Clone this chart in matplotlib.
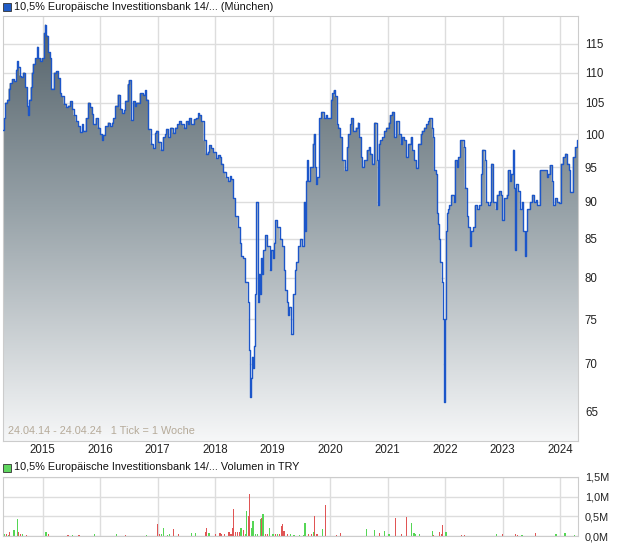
import numpy as np
import matplotlib
matplotlib.use('Agg')
import matplotlib.pyplot as plt
import matplotlib.dates as mdates
from matplotlib.colors import LinearSegmentedColormap
from matplotlib.patches import Rectangle
from matplotlib.ticker import NullLocator

plt.rcParams['font.family'] = ['Liberation Sans', 'DejaVu Sans']

# --- Daten ---
title_price = '10,5% Europäische Investitionsbank 14/... (München)'
title_volume = '10,5% Europäische Investitionsbank 14/... Volumen in TRY'
range_note = '24.04.14 - 24.04.24   1 Tick = 1 Woche'

start = np.datetime64('2014-04-24')
end = np.datetime64('2024-04-24')

# Wochen seit Start und Kurs
weeks = [0, 1, 2, 4, 5, 6, 8, 10, 12, 13,
         14, 15, 16, 18, 20, 22, 23, 24, 25, 26,
         27, 29, 31, 32, 34, 35, 37, 38, 39, 41,
         43, 44, 46, 48, 50, 52, 53, 55, 57, 59,
         61, 63, 64, 66, 68, 70, 72, 73, 75, 77,
         79, 81, 82, 84, 86, 88, 90, 91, 93, 95,
         97, 99, 100, 102, 104, 106, 108, 110, 111, 113,
         114, 116, 118, 120, 121, 124, 127, 129, 130, 132,
         134, 136, 138, 139, 141, 143, 145, 147, 148, 150,
         152, 154, 156, 158, 160, 162, 164, 166, 168, 169,
         171, 173, 175, 177, 178, 180, 182, 184, 186, 187,
         189, 191, 193, 195, 197, 198, 200, 202, 204, 206,
         207, 209, 211, 213, 215, 216, 218, 220, 222, 223,
         224, 225, 226, 227, 228, 229, 230, 231, 232, 233,
         234, 235, 236, 238, 240, 242, 243, 245, 246, 247,
         249, 251, 253, 255, 256, 258, 259, 260, 261, 263,
         265, 266, 268, 270, 271, 273, 274, 275, 276, 277,
         279, 281, 282, 283, 284, 285, 287, 289, 291, 293,
         294, 296, 298, 299, 300, 301, 303, 304, 306, 308,
         310, 312, 313, 315, 316, 318, 320, 322, 323, 325,
         326, 328, 330, 332, 333, 335, 337, 339, 340, 341,
         342, 344, 346, 348, 350, 351, 353, 355, 357, 359,
         361, 362, 364, 366, 368, 370, 371, 373, 375, 377,
         379, 380, 382, 384, 386, 387, 389, 390, 391, 393,
         394, 395, 396, 397, 398, 399, 400, 401, 402, 403,
         404, 405, 407, 409, 410, 412, 413, 415, 417, 418,
         419, 421, 422, 424, 425, 427, 428, 430, 432, 434,
         435, 437, 438, 440, 442, 443, 445, 447, 448, 450,
         452, 453, 455, 457, 458, 460, 461, 463, 464, 465,
         466, 467, 469, 471, 472, 474, 475, 476, 478, 480,
         482, 484, 485, 487, 491, 493, 494, 495, 496, 498,
         499, 501, 503, 505, 506, 508, 510, 512, 514, 515,
         517, 519, 521]
prices = [100.7, 102.5, 105.0, 105.5, 107.3, 108.2, 108.9, 108.5, 110.5, 112.0,
          111.0, 109.5, 109.3, 110.0, 107.5, 104.5, 103.0, 105.5, 107.5, 110.0,
          111.5, 112.5, 114.5, 112.5, 112.0, 112.5, 117.0, 118.5, 116.5, 113.5,
          112.5, 107.3, 110.0, 110.2, 109.0, 106.5, 106.0, 104.8, 104.3, 104.5,
          105.2, 104.0, 103.0, 102.0, 101.2, 100.3, 101.5, 100.5, 102.5, 105.0,
          104.3, 103.2, 101.5, 102.5, 101.0, 100.0, 99.0, 99.8, 101.2, 101.8,
          101.2, 101.8, 102.5, 104.5, 106.3, 104.0, 103.3, 103.8, 105.3, 108.0,
          108.7, 102.2, 105.2, 104.5, 105.0, 106.5, 106.3, 107.0, 105.5, 100.8,
          98.5, 97.8, 100.2, 100.5, 98.8, 97.6, 99.5, 100.0, 100.8, 99.5,
          101.0, 100.2, 101.0, 101.5, 102.0, 101.5, 101.0, 102.0, 101.5, 102.5,
          101.5, 102.3, 102.5, 103.3, 103.0, 102.0, 99.0, 97.0, 97.3, 98.3,
          97.8, 97.2, 96.3, 96.8, 96.5, 95.5, 94.3, 93.5, 93.0, 93.7,
          93.2, 90.5, 88.0, 86.5, 84.5, 82.7, 82.5, 79.5, 77.0, 71.5,
          66.5, 68.5, 70.8, 69.5, 72.0, 78.0, 90.0, 77.0, 80.5, 78.0,
          82.5, 80.5, 83.5, 85.5, 84.0, 81.0, 83.5, 82.5, 84.5, 87.5,
          86.5, 85.0, 84.0, 81.0, 78.5, 77.0, 75.5, 76.5, 73.3, 78.0,
          81.0, 82.0, 84.0, 85.0, 84.0, 90.0, 86.0, 93.0, 96.0, 93.0,
          95.0, 98.5, 100.0, 95.0, 92.5, 93.5, 102.5, 103.5, 102.5, 103.0,
          102.5, 102.5, 105.5, 106.5, 107.0, 106.0, 101.5, 101.0, 99.5, 96.0,
          94.5, 98.0, 100.0, 101.5, 102.5, 100.5, 101.0, 101.8, 99.5, 96.5,
          95.0, 96.0, 97.5, 98.0, 97.0, 95.5, 101.8, 96.0, 89.5, 98.5,
          99.0, 99.5, 100.5, 101.0, 101.8, 103.0, 103.5, 99.5, 102.0, 100.0,
          98.5, 99.5, 99.0, 96.5, 98.5, 99.5, 97.5, 96.0, 94.8, 98.5,
          100.0, 100.5, 101.0, 101.5, 102.0, 102.5, 101.0, 99.5, 94.5, 94.0,
          88.5, 87.0, 85.0, 82.0, 79.5, 75.0, 66.0, 75.0, 86.0, 88.5,
          89.0, 89.5, 91.0, 90.0, 96.0, 95.0, 96.5, 99.0, 99.0, 98.0,
          92.0, 88.0, 86.5, 84.0, 86.0, 86.5, 89.5, 89.0, 89.5, 94.0,
          97.6, 96.0, 90.0, 89.5, 90.0, 95.5, 90.0, 89.0, 91.0, 91.5,
          91.0, 87.5, 90.5, 91.0, 94.5, 93.0, 94.0, 97.6, 92.0, 83.5,
          92.5, 91.5, 89.0, 90.0, 86.0, 82.7, 86.0, 89.0, 90.0, 91.0,
          90.0, 90.2, 89.5, 94.5, 94.5, 94.5, 93.5, 94.0, 95.3, 93.0,
          89.5, 90.5, 90.0, 89.8, 95.5, 96.5, 97.0, 95.5, 94.5, 91.4,
          96.5, 98.0, 99.0]

# Volumen (Mio. TRY) - nur sichtbare Balken
vol_weeks = [1, 3, 5, 6, 10, 13, 14, 16, 18, 21,
             39, 41, 59, 63, 69, 83, 103, 111, 130, 140,
             142, 144, 146, 149, 151, 155, 159, 171, 175, 184,
             185, 187, 193, 197, 198, 201, 205, 207, 208, 209,
             211, 213, 215, 216, 218, 220, 221, 223, 224, 226,
             227, 229, 231, 234, 235, 236, 238, 240, 242, 245,
             247, 249, 251, 253, 254, 255, 258, 261, 264, 269,
             273, 274, 277, 280, 282, 283, 285, 290, 293, 303,
             306, 330, 337, 342, 346, 350, 351, 356, 362, 366,
             371, 373, 374, 378, 390, 391, 396, 398, 399, 402,
             416, 419, 448, 453, 465, 467, 471, 483, 502, 510,
             519]
vol_mio = [0.05, 0.04, 0.03, 0.10, 0.15, 0.42, 0.10, 0.06, 0.04, 0.03,
           0.10, 0.05, 0.02, 0.02, 0.02, 0.05, 0.05, 0.03, 0.03, 0.31,
           0.05, 0.04, 0.20, 0.03, 0.04, 0.18, 0.05, 0.07, 0.08, 0.10,
           0.20, 0.08, 0.05, 0.07, 0.04, 0.05, 0.10, 0.05, 0.20, 0.68,
           0.10, 0.10, 0.10, 0.20, 0.15, 0.05, 0.63, 0.50, 1.08, 0.20,
           0.37, 0.05, 0.05, 0.43, 0.45, 0.57, 0.05, 0.04, 0.20, 0.05,
           0.05, 0.05, 0.05, 0.25, 0.30, 0.13, 0.05, 0.05, 0.03, 0.03,
           0.03, 0.33, 0.05, 0.05, 0.10, 0.50, 0.05, 0.18, 0.80, 0.02,
           0.08, 0.17, 0.15, 0.07, 0.12, 0.05, 0.04, 0.45, 0.06, 0.48,
           0.33, 0.08, 0.06, 0.04, 0.12, 0.03, 0.11, 0.05, 0.28, 0.10,
           0.03, 0.03, 0.05, 0.04, 0.06, 0.03, 0.03, 0.08, 0.04, 0.08,
           0.03]
vol_up = [1, 0, 1, 0, 1, 1, 0, 0, 1, 0,
          1, 0, 0, 1, 0, 1, 1, 0, 1, 0,
          0, 1, 1, 1, 1, 0, 0, 1, 1, 0,
          0, 1, 0, 0, 0, 0, 0, 0, 0, 0,
          0, 0, 0, 1, 0, 1, 1, 0, 0, 1,
          1, 1, 1, 1, 0, 1, 0, 0, 1, 1,
          0, 1, 0, 0, 0, 0, 0, 1, 1, 1,
          1, 1, 0, 0, 1, 0, 0, 1, 0, 0,
          0, 1, 1, 0, 1, 1, 1, 0, 0, 0,
          1, 1, 1, 1, 1, 0, 0, 0, 0, 1,
          0, 0, 1, 0, 0, 0, 1, 0, 1, 1,
          1]

years = list(range(2015, 2025))
price_ticks = [65, 70, 75, 80, 85, 90, 95, 100, 105, 110, 115]
vol_ticks = [0.0, 0.5, 1.0, 1.5]
vol_labels = ['0,0M', '0,5M', '1,0M', '1,5M']

# --- Aufbereitung ---
week = np.timedelta64(7, 'D')
dates = start + np.array(weeks) * week
xn = mdates.date2num(np.append(dates, end))
yv = np.append(prices, prices[-1])
vol_x = mdates.date2num(start + np.array(vol_weeks) * week)
vol_colors = ['#55d655' if u else '#e05555' for u in vol_up]
year_x = [mdates.date2num(np.datetime64(f'{y}-01-01')) for y in years]
x0, x1 = mdates.date2num(start), mdates.date2num(end)

W, H = 620, 546
fig = plt.figure(figsize=(W / 100, H / 100), dpi=100)

# Kurs-Chart
ax = fig.add_axes([3 / W, 1 - 441 / H, 575 / W, 425 / H])
ax.set_yscale('log')
ax.set_xlim(x0, x1)
ax.set_ylim(62.1, 120.1)
ax.set_autoscale_on(False)

fb = ax.fill_between(xn, yv, 40, step='post', color='none', lw=0)
clip = fb.get_paths()[0]
fb.remove()
cmap = LinearSegmentedColormap.from_list(
    'fill', [(0, '#f6f7f8'), (0.55, '#96a1a7'), (1, '#526068')])
grad = np.linspace(0, 1, 256).reshape(-1, 1)
im = ax.imshow(grad, extent=[0, 1, 0, 1], origin='lower', transform=ax.transAxes,
               aspect='auto', cmap=cmap, zorder=1, interpolation='bilinear')
im.set_clip_path(clip, transform=ax.transData)

ax.step(xn, yv, where='post', color='#1c56c9', lw=1.0, zorder=3)

ax.set_xticks(year_x)
ax.set_xticklabels([str(y) for y in years])
ax.set_yticks(price_ticks)
ax.set_yticklabels([str(t) for t in price_ticks])
ax.yaxis.set_minor_locator(NullLocator())
ax.yaxis.tick_right()
ax.tick_params(axis='both', length=0, labelsize=8.3, colors='#222222')
ax.tick_params(axis='y', pad=5)
ax.tick_params(axis='x', pad=2)
ax.grid(True, color='#dddddd', lw=1, zorder=0)
ax.set_axisbelow(True)
for s in ax.spines.values():
    s.set_color('#cccccc')
ax.text(0.008, 0.012, range_note, transform=ax.transAxes, fontsize=7.8,
        color='#b5aa99', va='bottom', ha='left', zorder=4)

# Volumen-Chart
ax2 = fig.add_axes([3 / W, 1 - 536 / H, 575 / W, 59 / H])
ax2.bar(vol_x, vol_mio, width=8, color=vol_colors, zorder=2, lw=0)
ax2.set_xlim(x0, x1)
ax2.set_ylim(0, 1.5)
ax2.set_xticks(year_x)
ax2.set_xticklabels([])
ax2.set_yticks(vol_ticks)
ax2.set_yticklabels(vol_labels)
ax2.yaxis.tick_right()
ax2.tick_params(axis='both', length=0, labelsize=7.8, colors='#222222', pad=5)
ax2.grid(True, color='#dddddd', lw=1, zorder=0)
ax2.set_axisbelow(True)
for s in ax2.spines.values():
    s.set_color('#cccccc')

# Titel mit Farbquadraten
fig.patches.append(Rectangle((3 / W, 1 - 11 / H), 8 / W, 8 / H, transform=fig.transFigure,
                             facecolor='#1f5bc6', edgecolor='#333333', lw=0.6))
fig.text(14 / W, 1 - 6.5 / H, title_price, fontsize=7.8, va='center', color='#111111')
fig.patches.append(Rectangle((3 / W, 1 - 472 / H), 8 / W, 8 / H, transform=fig.transFigure,
                             facecolor='#5fd65f', edgecolor='#333333', lw=0.6))
fig.text(14 / W, 1 - 467.5 / H, title_volume, fontsize=7.8, va='center', color='#111111')

fig.savefig('out.png', dpi=100)
